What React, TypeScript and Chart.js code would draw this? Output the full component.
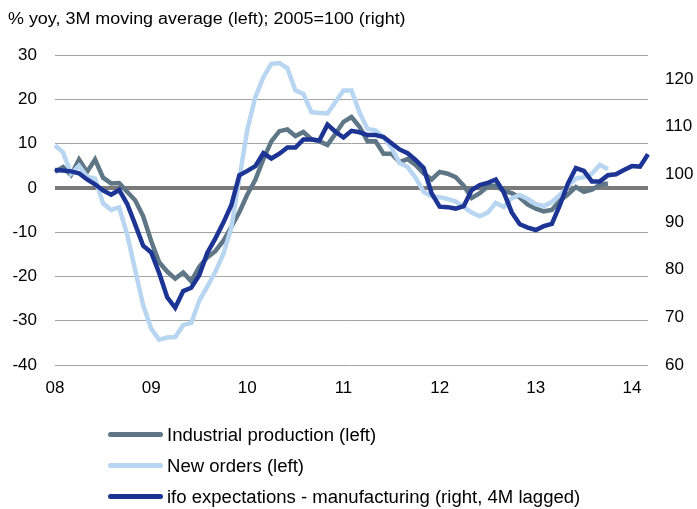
import React, { useEffect, useRef } from "react";
import { Chart, registerables } from "chart.js";

Chart.register(...registerables);

const titleText = "% yoy, 3M moving average (left); 2005=100 (right)";
const yearTickLabels = ["08", "09", "10", "11", "12", "13", "14"];
const startYear = 2008;
const monthCount = 75;
const months: string[] = [];
for (let i = 0; i < monthCount; i++) {
  const y = startYear + Math.floor(i / 12);
  const m = (i % 12) + 1;
  months.push(`${y}-${m < 10 ? "0" + m : m}`);
}

const seriesNames = [
  "Industrial production (left)",
  "New orders (left)",
  "ifo expectations - manufacturing (right, 4M lagged)",
];

const industrialProduction = [
  3.6, 4.7, 2.9, 6.4, 3.6, 6.4, 2.3, 1.0, 1.1, -0.9,
  -2.8, -6.4, -12.0, -16.8, -18.9, -20.5, -19.1, -21.1, -17.8, -15.7,
  -14.3, -12.0, -8.8, -5.5, -1.5, 1.8, 6.5, 10.5, 12.8, 13.2,
  11.7, 12.6, 11.0, 10.5, 9.7, 12.2, 14.9, 16.0, 13.8, 10.5,
  10.5, 7.7, 7.7, 5.8, 6.5, 5.2, 3.3, 1.9, 3.6, 3.2,
  2.4, 0.5, -2.3, -1.2, 0.3, 0.5, -0.7, -1.2, -2.2, -3.8,
  -4.7, -5.3, -5.0, -2.9, -1.5, 0.2, -0.9, -0.4, 0.7, 1.0,
];

const newOrders = [
  9.6, 8.0, 3.2, 5.0, 2.5, 2.1, -3.5, -5.0, -4.4, -10.5,
  -18.5, -26.5, -31.8, -34.3, -33.8, -33.7, -31.0, -30.5, -25.5, -22.3,
  -19.0, -15.0, -9.0, 2.0, 13.2, 20.5, 25.0, 28.0, 28.2, 27.0,
  22.0, 21.2, 17.1, 16.9, 16.8, 19.4, 22.0, 22.0, 17.0, 13.3,
  13.0, 11.4, 9.0, 5.6, 4.7, 2.3, -0.9, -1.9, -2.1, -2.5,
  -3.1, -4.3, -5.6, -6.4, -5.6, -3.4, -4.3, -2.3, -1.6, -2.5,
  -3.7, -4.1, -3.2, -1.6, 0.3, 2.1, 2.4, 3.2, 5.2, 4.2,
];

const ifoExpectations = [
  100.9, 100.8, 100.6, 100.2, 98.9, 97.9, 96.6, 95.7, 96.7, 93.8,
  89.5, 85.0, 83.6, 79.3, 74.2, 72.0, 75.5, 76.2, 78.8, 83.5,
  86.5, 89.8, 93.5, 99.8, 100.7, 101.7, 104.4, 103.3, 104.3, 105.6,
  105.6, 107.3, 107.3, 107.1, 110.4, 108.9, 107.7, 109.1, 108.8, 108.2,
  108.2, 107.8, 106.5, 105.2, 104.4, 103.0, 101.3, 96.0, 93.2, 93.1,
  92.8, 93.3, 96.7, 97.7, 98.2, 98.9, 96.2, 92.0, 89.5, 88.8,
  88.3, 89.1, 89.6, 93.5, 98.0, 101.3, 100.7, 98.5, 98.5, 99.8,
  100.0, 100.9, 101.7, 101.6, 104.2,
];

const colors = ["#5F7687", "#B8D5F1", "#1C3494"];
const FONT = "'Liberation Sans', Arial, sans-serif";

export default function App() {
  const ref = useRef<HTMLCanvasElement | null>(null);
  useEffect(() => {
    if (!ref.current) return;
    const chart = new Chart(ref.current, {
      type: "line",
      data: {
        labels: months,
        datasets: [
          {
            label: seriesNames[0],
            data: industrialProduction,
            borderColor: colors[0],
            backgroundColor: colors[0],
            borderWidth: 4.5,
            pointRadius: 0,
            tension: 0,
            yAxisID: "y",
            order: 2,
          },
          {
            label: seriesNames[1],
            data: newOrders,
            borderColor: colors[1],
            backgroundColor: colors[1],
            borderWidth: 4.5,
            pointRadius: 0,
            tension: 0,
            yAxisID: "y",
            order: 1,
          },
          {
            label: seriesNames[2],
            data: ifoExpectations,
            borderColor: colors[2],
            backgroundColor: colors[2],
            borderWidth: 4.5,
            pointRadius: 0,
            tension: 0,
            yAxisID: "y1",
            order: 0,
          },
        ],
      },
      options: {
        responsive: false,
        animation: false,
        devicePixelRatio: 1,
        layout: { padding: { left: 8, right: 0, top: 55, bottom: 104 } },
        plugins: {
          legend: { display: false },
          tooltip: { enabled: false },
          title: { display: false },
        },
        scales: {
          x: {
            type: "category",
            offset: false,
            grid: { display: false },
            border: { display: false },
            ticks: {
              autoSkip: false,
              maxRotation: 0,
              padding: 5,
              color: "#000",
              font: { family: FONT, size: 17 },
              callback: (value: any) => yearTickLabels[Math.round(Number(value) / 12)],
            },
            afterBuildTicks: (scale: any) => {
              scale.ticks = scale.ticks.filter((t: any) => t.value % 12 === 0);
            },
            afterFit: (scale: any) => {
              scale.height = 40;
            },
          },
          y: {
            position: "left",
            min: -40,
            max: 30,
            border: { display: false },
            grid: {
              drawTicks: false,
              color: (ctx: any) => (ctx.tick && ctx.tick.value === 0 ? "#7A7A7A" : "#A3A3A3"),
              lineWidth: (ctx: any) => (ctx.tick && ctx.tick.value === 0 ? 4 : 1),
            },
            ticks: {
              stepSize: 10,
              padding: 18,
              color: "#000",
              font: { family: FONT, size: 17 },
            },
            afterFit: (scale: any) => {
              scale.width = 47;
            },
          },
          y1: {
            position: "right",
            min: 60,
            max: 125,
            border: { display: false },
            grid: { display: false, drawTicks: false },
            ticks: {
              stepSize: 10,
              includeBounds: false,
              padding: 17,
              color: "#000",
              font: { family: FONT, size: 17 },
            },
            afterFit: (scale: any) => {
              scale.width = 49;
            },
          },
        },
      },
    });
    return () => chart.destroy();
  }, []);

  const legendRow = (i: number) => (
    <div key={i} style={{ display: "flex", alignItems: "center", height: 31 }}>
      <span
        style={{
          display: "inline-block",
          width: 55,
          height: 5,
          borderRadius: 3,
          background: colors[i],
          marginRight: 4,
          flex: "none",
        }}
      />
      <span
        style={{
          display: "inline-block",
          fontFamily: FONT,
          fontSize: 18,
          lineHeight: "20px",
          color: "#000",
          whiteSpace: "nowrap",
          transform: "scaleX(1.03)",
          transformOrigin: "left center",
        }}
      >
        {seriesNames[i]}
      </span>
    </div>
  );

  return (
    <div style={{ position: "absolute", left: 0, top: 0, width: 697, height: 509 }}>
      <canvas ref={ref} width={697} height={509} style={{ display: "block" }} />
      <div
        style={{
          position: "absolute",
          left: 8,
          top: 11,
          fontFamily: FONT,
          fontSize: 16,
          lineHeight: "16px",
          color: "#000",
          whiteSpace: "nowrap",
          transform: "scaleX(1.12)",
          transformOrigin: "left top",
        }}
      >
        {titleText}
      </div>
      <div style={{ position: "absolute", left: 108, top: 419 }}>
        {[0, 1, 2].map(legendRow)}
      </div>
    </div>
  );
}
